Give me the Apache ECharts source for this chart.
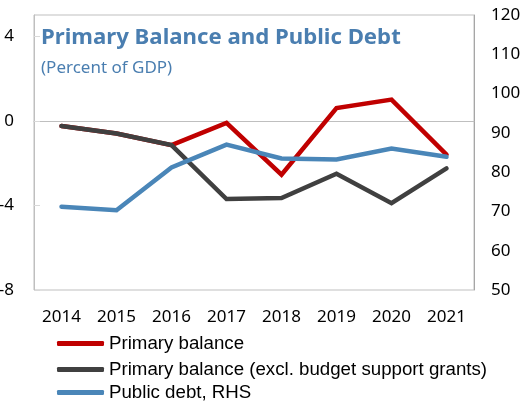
<!DOCTYPE html>
<html>
<head>
<meta charset="utf-8">
<script src="https://cdn.jsdelivr.net/npm/echarts@6/dist/echarts.min.js"></script>
<style>
  html, body { margin: 0; padding: 0; background: #fff; }
  #chart { width: 527px; height: 403px; }
</style>
</head>
<body>
<div id="chart"></div>
<script>
// Primary balance and public debt, percent of GDP
const years = ['2014', '2015', '2016', '2017', '2018', '2019', '2020', '2021'];
const primaryBalance = [-0.25, -0.6, -1.15, -0.1, -2.55, 0.6, 1.0, -1.6];
const primaryBalanceExGrants = [-0.25, -0.6, -1.15, -3.7, -3.65, -2.5, -3.9, -2.25];
const publicDebt = [71.2, 70.3, 81.2, 87.0, 83.5, 83.2, 86.0, 83.9];

const seriesNames = [
  'Primary balance',
  'Primary balance (excl. budget support grants)',
  'Public debt, RHS'
];
const colors = ['#C00000', '#404040', '#4A86B8'];

const chart = echarts.init(document.getElementById('chart'), null, { renderer: 'canvas' });

const labelFont = { fontFamily: 'Noto Sans', fontSize: 17, color: '#000' };

// one legend block per series, stacked under the x axis
const legendTops = [329, 355, 378];
const legends = seriesNames.map((name, i) => ({
  orient: 'vertical',
  left: 52,
  top: legendTops[i],
  itemWidth: 47,
  itemHeight: 5,
  icon: 'roundRect',
  data: [name],
  textStyle: { fontFamily: 'Liberation Sans', fontSize: 18.7, color: '#000', lineHeight: 18 }
}));

chart.setOption({
  animation: false,
  backgroundColor: '#fff',
  title: [
    {
      text: 'Primary Balance and Public Debt',
      left: 36,
      top: 22,
      textStyle: { fontFamily: 'Noto Sans', fontWeight: 'bold', fontSize: 22.2, color: '#4A7EB0' }
    },
    {
      text: '(Percent of GDP)',
      left: 36,
      top: 55,
      textStyle: { fontFamily: 'Noto Sans', fontWeight: 'normal', fontSize: 17, color: '#4A7EB0' }
    }
  ],
  legend: legends,
  grid: {
    left: 34,
    right: 53,
    top: 15,
    bottom: 113,
    show: true,
    borderColor: '#bfbfbf',
    borderWidth: 1,
    containLabel: false,
    outerBoundsMode: 'none'
  },
  xAxis: {
    type: 'category',
    data: years,
    boundaryGap: true,
    axisLine: { show: true, lineStyle: { color: '#bfbfbf', width: 1 } },
    axisTick: { show: false },
    axisLabel: Object.assign({ margin: 19, interval: 0 }, labelFont)
  },
  yAxis: [
    {
      type: 'value',
      min: -8,
      max: 5,
      interval: 4,
      position: 'left',
      axisLine: { show: true, lineStyle: { color: '#bfbfbf' } },
      axisTick: { show: true, inside: true, length: 6, lineStyle: { color: '#d9d9d9' } },
      splitLine: { show: false },
      axisLabel: Object.assign({ margin: 20, showMaxLabel: false }, labelFont)
    },
    {
      type: 'value',
      min: 50,
      max: 120,
      interval: 10,
      position: 'right',
      axisLine: { show: true, lineStyle: { color: '#a6a6a6' } },
      axisTick: { show: false },
      splitLine: { show: false },
      axisLabel: Object.assign({ margin: 17 }, labelFont)
    }
  ],
  series: [
    {
      name: seriesNames[0],
      type: 'line',
      yAxisIndex: 0,
      data: primaryBalance,
      symbol: 'none',
      color: colors[0],
      lineStyle: { width: 4.5, color: colors[0], cap: 'round', join: 'miter' }
    },
    {
      name: seriesNames[1],
      type: 'line',
      yAxisIndex: 0,
      data: primaryBalanceExGrants,
      symbol: 'none',
      color: colors[1],
      lineStyle: { width: 4.5, color: colors[1], cap: 'round', join: 'miter' }
    },
    {
      name: seriesNames[2],
      type: 'line',
      yAxisIndex: 1,
      data: publicDebt,
      symbol: 'none',
      color: colors[2],
      lineStyle: { width: 4.5, color: colors[2], cap: 'round', join: 'miter' }
    }
  ]
});
</script>
</body>
</html>
